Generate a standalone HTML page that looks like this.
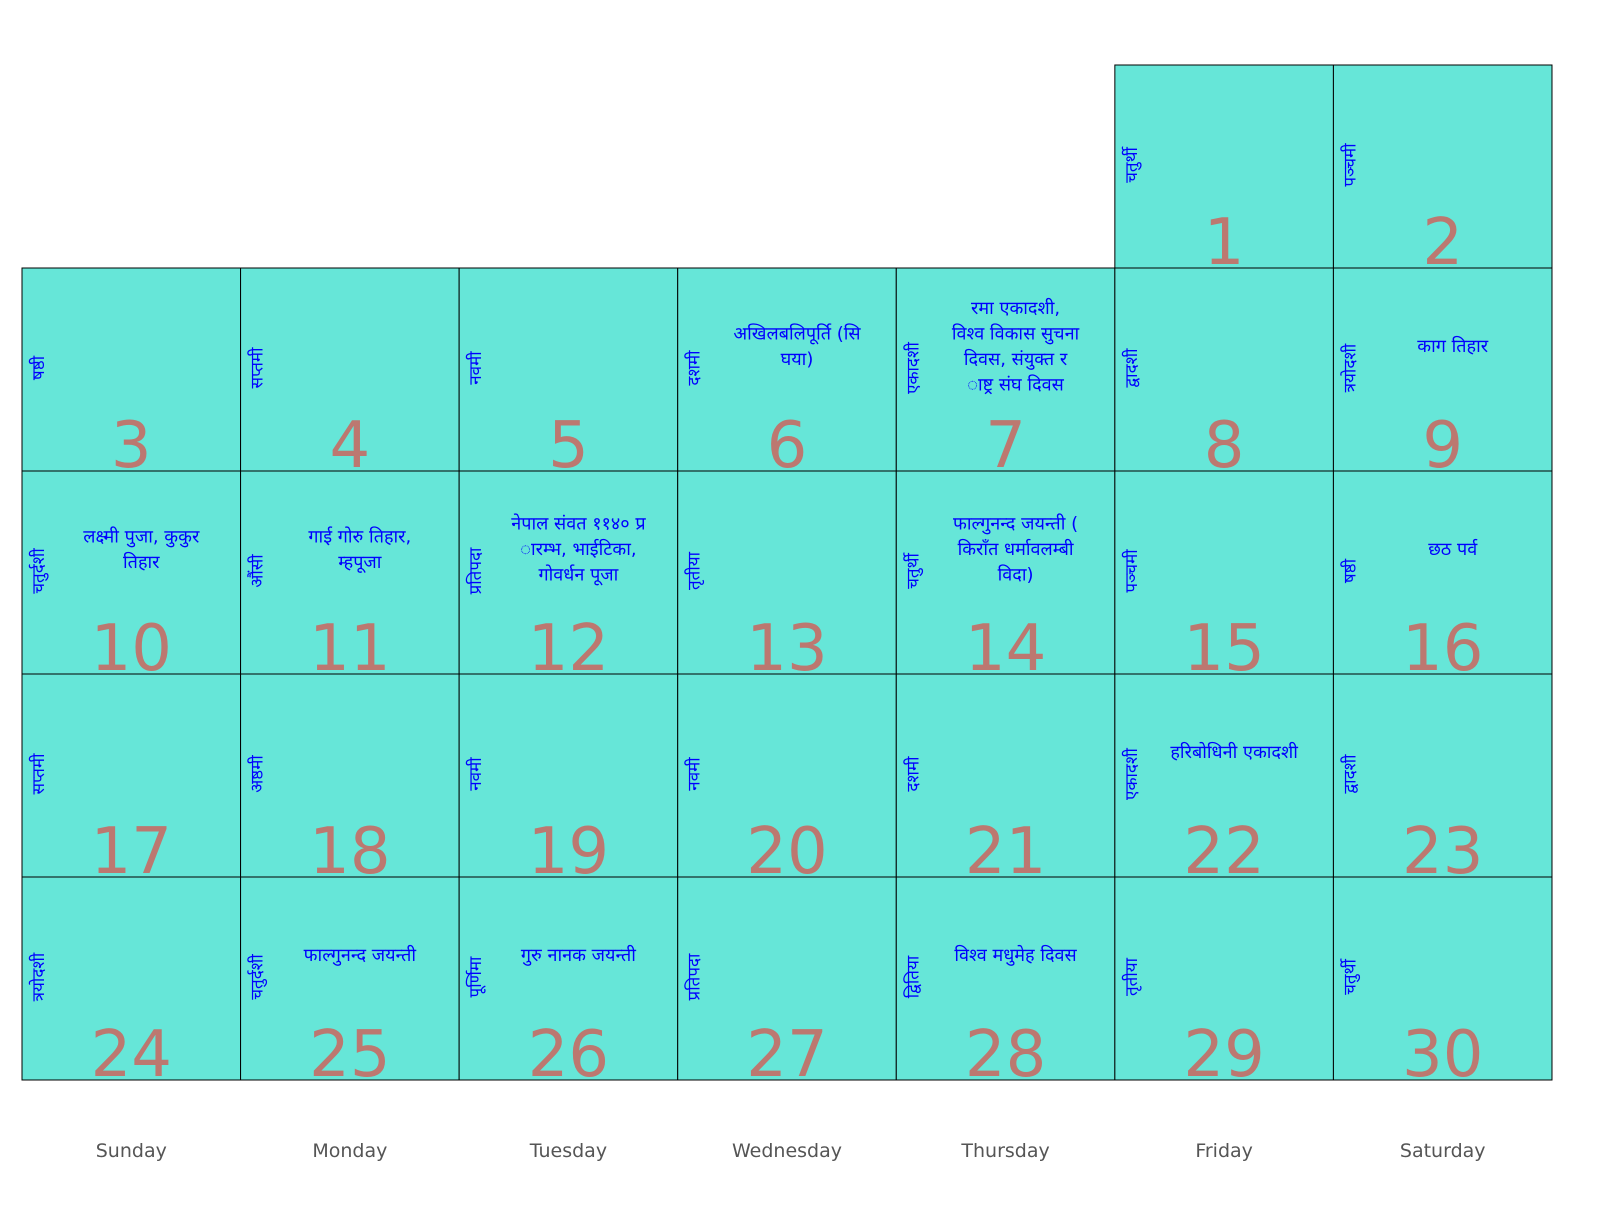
<!DOCTYPE html>
<html><head><meta charset="utf-8">
<style>
html,body{margin:0;padding:0;background:#fff;}
body{width:1600px;height:1200px;overflow:hidden;}
svg text{font-family:"DejaVu Sans","Liberation Sans",sans-serif;}
</style></head>
<body>
<svg id="cal" width="1600" height="1200" xmlns="http://www.w3.org/2000/svg"></svg>
<script>
const weekdays=["Sunday","Monday","Tuesday","Wednesday","Thursday","Friday","Saturday"];
const startOffset=5;
const days=[1,2,3,4,5,6,7,8,9,10,11,12,13,14,15,16,17,18,19,20,21,22,23,24,25,26,27,28,29,30];
const tithis=["चतुर्थी","पञ्चमी","षष्ठी","सप्तमी","नवमी","दशमी","एकादशी","द्वादशी","त्रयोदशी","चतुर्दशी","औंसी","प्रतिपदा","तृतीया","चतुर्थी","पञ्चमी","षष्ठी","सप्तमी","अष्ठमी","नवमी","नवमी","दशमी","एकादशी","द्वादशी","त्रयोदशी","चतुर्दशी","पूर्णिमा","प्रतिपदा","द्वितिया","तृतीया","चतुर्थी"];
const events=[[],[],[],[],[],["अखिलबलिपूर्ति (सि","घया)"],["रमा एकादशी,","विश्व विकास सुचना","दिवस, संयुक्त र","ाष्ट्र संघ दिवस"],[],["काग तिहार"],["लक्ष्मी पुजा, कुकुर","तिहार"],["गाई गोरु तिहार,","म्हपूजा"],["नेपाल संवत ११४० प्र","ारम्भ, भाईटिका,","गोवर्धन पूजा"],[],["फाल्गुनन्द जयन्ती (","किराँत धर्मावलम्बी","विदा)"],[],["छठ पर्व"],[],[],[],[],[],["हरिबोधिनी एकादशी"],[],[],["फाल्गुनन्द जयन्ती"],["गुरु नानक जयन्ती"],[],["विश्व मधुमेह दिवस"],[],[]];

const svg=document.getElementById('cal');
const NS="http://www.w3.org/2000/svg";
const x0=22,colW=218.57,y0=65,rowH=203;
const xCol=c=>x0+c*colW;
const yRow=r=>y0+r*rowH;
function mk(tag,attrs){const e=document.createElementNS(NS,tag);for(const k in attrs)e.setAttribute(k,attrs[k]);svg.appendChild(e);return e;}
days.forEach((d,i)=>{
  const pos=i+startOffset, c=pos%7, r=Math.floor(pos/7);
  const x=xCol(c), y=yRow(r), cx=x+colW/2;
  const rect=mk('rect',{x:x,y:y,width:colW,height:rowH,fill:'#66e6d8',stroke:'#000','stroke-width':1});
  
  
  const num=mk('text',{x:cx,y:y+rowH-4,'text-anchor':'middle','font-size':64,fill:'#bc7870'});
  num.textContent=d;
  
  
  const tx=x+22, ty=y+100;
  const t=mk('text',{x:tx,y:ty,'text-anchor':'middle','font-size':17,fill:'#0000ff',transform:`rotate(-90 ${tx} ${ty})`,'font-family':'"DejaVu Sans",sans-serif'});
  t.textContent=tithis[i];
  
  
  const ev=events[i]; const n=ev.length;
  ev.forEach((line,j)=>{
    const ly=y+78+(j-(n-1)/2)*25.5+6;
    const et=mk('text',{x:cx+10,y:ly,'text-anchor':'middle','font-size':18,fill:'#0000ff'});
    et.textContent=line;
    
    
  });
});
weekdays.forEach((w,c)=>{
  const t=mk('text',{x:xCol(c)+colW/2,y:1157,'text-anchor':'middle','font-size':19,fill:'#555'});
  t.textContent=w;
  
  
});
</script>
</body></html>
